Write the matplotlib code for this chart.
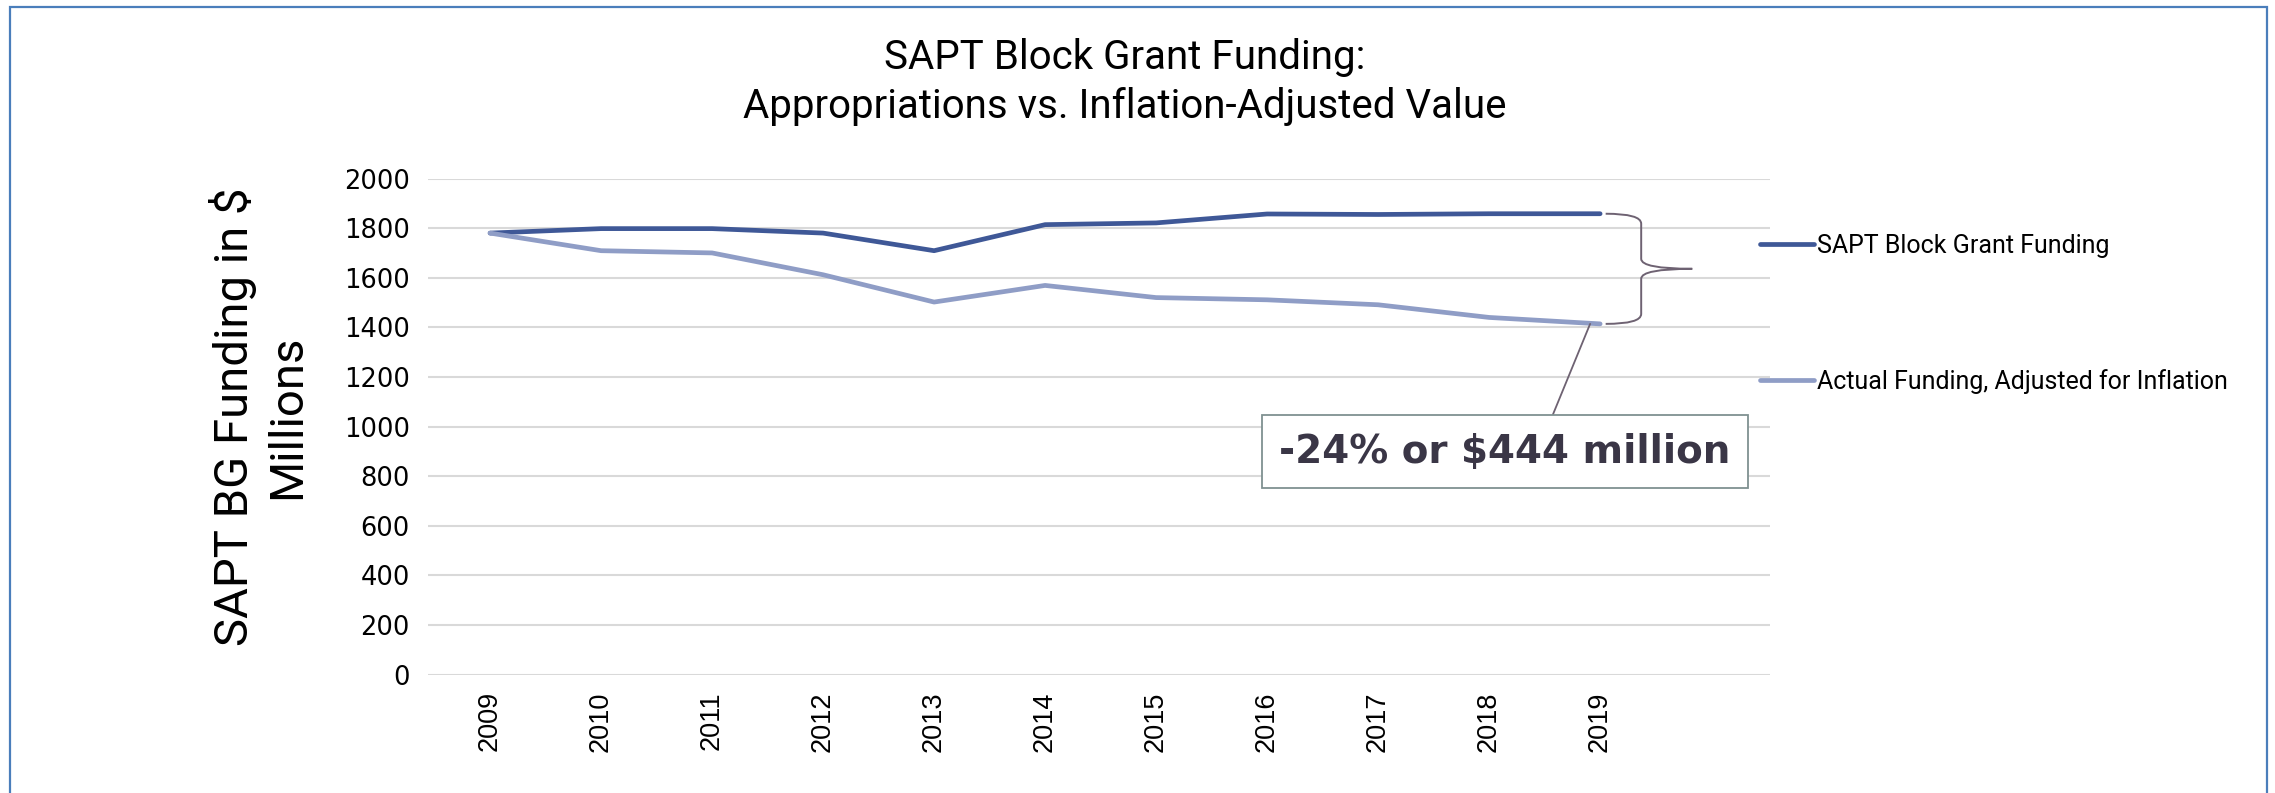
import matplotlib.pyplot as plt
from matplotlib.path import Path
from matplotlib.patches import PathPatch, Rectangle

# Data ($ millions)
years = [2009, 2010, 2011, 2012, 2013, 2014, 2015, 2016, 2017, 2018, 2019]
appropriations = [1780, 1798, 1798, 1780, 1709, 1814, 1821, 1857, 1855, 1858, 1858]
inflation_adjusted = [1780, 1709, 1700, 1612, 1502, 1569, 1520, 1511, 1491, 1440, 1414]
y_ticks = [0, 200, 400, 600, 800, 1000, 1200, 1400, 1600, 1800, 2000]
series_names = ["SAPT Block Grant Funding", "Actual Funding, Adjusted for Inflation"]
gap_label = "-24% or $444 million"

narrow = ["Roboto", "DejaVu Sans"]
dark_blue = "#3f5897"
light_blue = "#8f9dc6"
brace_col = "#6e6272"

fig = plt.figure(figsize=(22.75, 7.93), dpi=100)
ax = fig.add_axes([0.1881, 0.1492, 0.5899, 0.6257])

ax.plot(years, appropriations, color=dark_blue, lw=3.4, label=series_names[0],
        solid_capstyle="round", zorder=3)
ax.plot(years, inflation_adjusted, color=light_blue, lw=3.4, label=series_names[1],
        solid_capstyle="round", zorder=3)

ax.set_xlim(years[0] - 0.56, years[-1] + 1.53)
ax.set_ylim(0, 2000)
ax.set_yticks(y_ticks)
ax.set_xticks(years)
ax.set_xticklabels([str(y) for y in years], rotation=90, fontsize=19.5,
                   family="Liberation Sans")
ax.tick_params(axis="y", labelsize=18.5, length=0, pad=13)
ax.tick_params(axis="x", length=0, pad=12)
ax.yaxis.grid(True, color="#d9d9d9", lw=1.5)
ax.set_axisbelow(True)
for s in ax.spines.values():
    s.set_visible(False)

# y axis title (two lines, left of the tick labels)
fig.text(259 / 2275, 0.4741, "SAPT BG Funding in $\nMillions", rotation=90,
         ha="center", va="center", fontsize=34, family=narrow, linespacing=1.25)

# title
fig.text(0.4945, 0.897, "SAPT Block Grant Funding:\nAppropriations vs. Inflation-Adjusted Value",
         ha="center", va="center", fontsize=29, family=narrow, linespacing=1.33)

# legend placed to the right of the plot
leg = ax.legend(loc="upper left", bbox_to_anchor=(0.7736, 0.7055),
                bbox_transform=fig.transFigure, frameon=False,
                prop={"family": narrow, "size": 18}, handlelength=2.16,
                handletextpad=0.12, labelspacing=4.47, borderpad=0, borderaxespad=0)

# curly brace spanning the gap at 2019
top = appropriations[-1]
bot = inflation_adjusted[-1]
mid = (top + bot) / 2
x0 = years[-1] + 0.05
xv = years[-1] + 0.37
xt = years[-1] + 0.83
r = 40
verts = [(x0, top), (xv, top), (xv, top - r),
         (xv, mid + r), (xv, mid), (xt, mid),
         (xv, mid), (xv, mid - r),
         (xv, bot + r), (xv, bot), (x0, bot)]
codes = [Path.MOVETO, Path.CURVE3, Path.CURVE3,
         Path.LINETO, Path.CURVE3, Path.CURVE3,
         Path.CURVE3, Path.CURVE3,
         Path.LINETO, Path.CURVE3, Path.CURVE3]
ax.add_patch(PathPatch(Path(verts, codes), fc="none", ec=brace_col, lw=1.4,
                       clip_on=False, zorder=4))

# callout box
ax.annotate(gap_label, xy=(years[-1] - 0.09, bot), xycoords="data",
            xytext=(0.6615, 0.4306), textcoords="figure fraction",
            ha="center", va="center", fontsize=28, fontweight="bold", color="#3a3646",
            bbox=dict(boxstyle="square,pad=0.45", fc="white", ec="#7f9191", lw=1.3),
            arrowprops=dict(arrowstyle="-", color=brace_col, lw=1.3,
                            relpos=(0.59, 1.0), shrinkA=0, shrinkB=0))

# outer frame
fig.patches.append(Rectangle((10 / 2275, -0.05), 2257 / 2275, 1.05 - 7 / 793,
                             transform=fig.transFigure, fill=False,
                             ec="#4a7ebb", lw=1.6))

fig.savefig("out.png", dpi=100)
